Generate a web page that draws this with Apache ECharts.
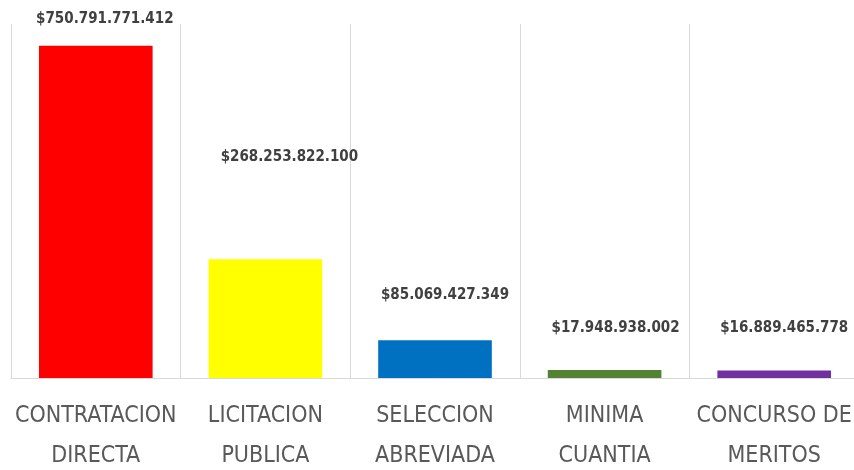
<!DOCTYPE html>
<html>
<head>
<meta charset="utf-8">
<script src="https://cdn.jsdelivr.net/npm/echarts@6/dist/echarts.min.js"></script>
<style>
html,body{margin:0;padding:0;background:#fff;}
#chart{width:854px;height:470px;}
</style>
</head>
<body>
<div id="chart"></div>
<script>
// modalidades de contratacion
var categorias = ['CONTRATACION\nDIRECTA', 'LICITACION\nPUBLICA', 'SELECCION\nABREVIADA', 'MINIMA\nCUANTIA', 'CONCURSO DE\nMERITOS'];
var valores = [750791771412, 268253822100, 85069427349, 17948938002, 16889465778];
var etiquetas = ['$750.791.771.412', '$268.253.822.100', '$85.069.427.349', '$17.948.938.002', '$16.889.465.778'];
var colores = ['#FF0000', '#FFFF00', '#0070C0', '#548235', '#7030A0'];
// desplazamiento de etiquetas (como en el original)
var desplaz = [[9, -19], [24, -95], [10, -38], [11, -34], [10, -35]];

var myChart = echarts.init(document.getElementById('chart'));
var datos = [];
for (var i = 0; i < valores.length; i++) {
    datos.push({
        value: valores[i],
        itemStyle: {color: colores[i]},
        label: {offset: desplaz[i]}
    });
}
myChart.setOption({
    animation: false,
    grid: {left: 11, right: -5, top: 24, bottom: 92, containLabel: false, outerBoundsMode: 'none'},
    xAxis: {
        type: 'category',
        data: categorias,
        axisLine: {lineStyle: {color: '#d9d9d9', width: 1}},
        axisTick: {show: false},
        splitLine: {show: true, interval: 0, lineStyle: {color: '#d9d9d9', width: 1}},
        axisLabel: {
            interval: 0,
            margin: 18,
            color: '#595959',
            fontFamily: '"DejaVu Sans Condensed", "Liberation Sans"',
            fontSize: 23,
            lineHeight: 40
        }
    },
    yAxis: {
        type: 'value',
        min: 0,
        max: 800000000000,
        show: false,
        splitLine: {show: false}
    },
    series: [{
        type: 'bar',
        barWidth: '67%',
        data: datos,
        label: {
            show: true,
            position: 'top',
            distance: 0,
            color: '#404040',
            fontFamily: '"DejaVu Sans Condensed", "Liberation Sans"',
            fontWeight: 'bold',
            fontSize: 15,
            formatter: function (p) {
                return etiquetas[p.dataIndex];
            }
        }
    }]
});
</script>
</body>
</html>
